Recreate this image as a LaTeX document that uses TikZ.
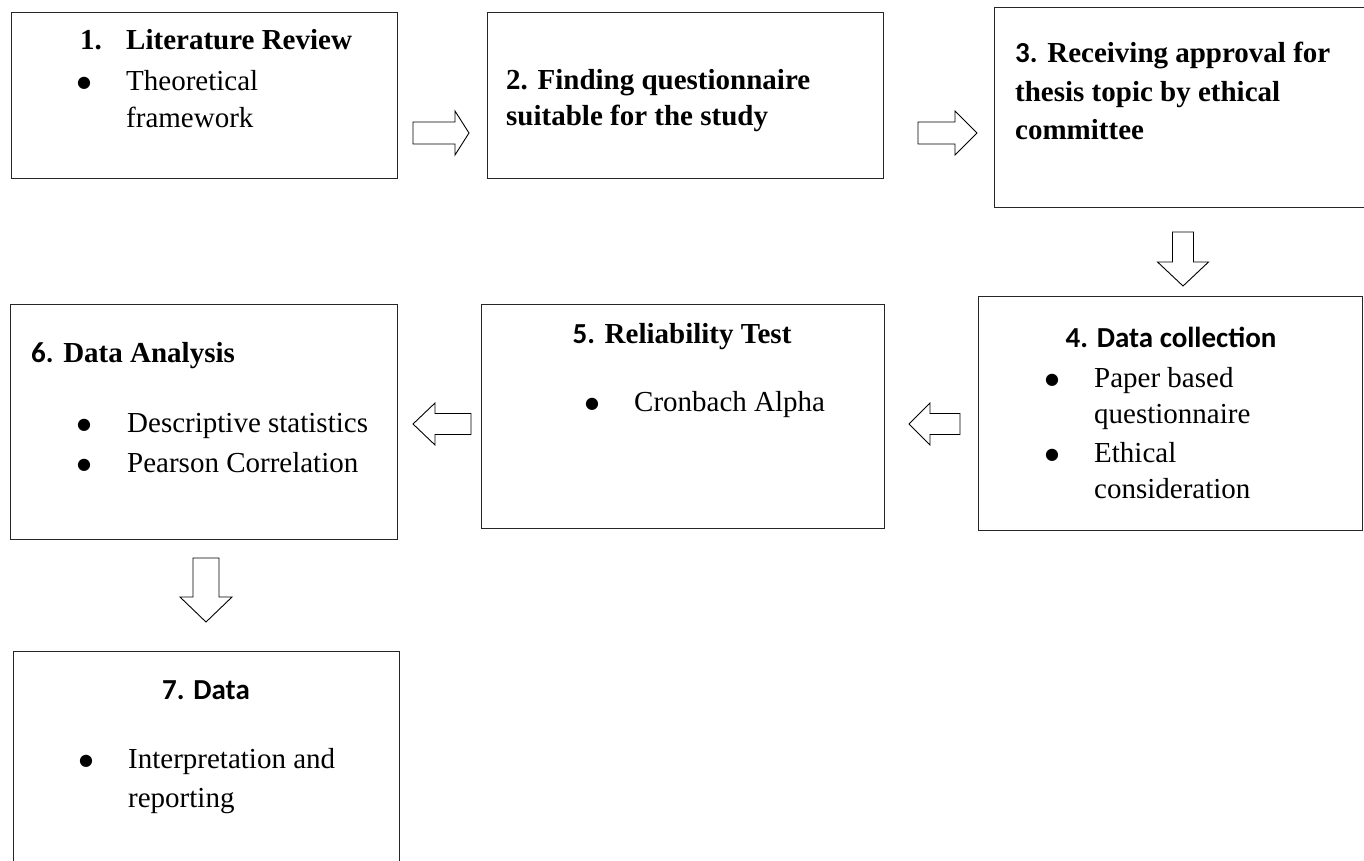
\documentclass[tikz,border=0pt]{standalone}
\usepackage{fontspec}
\setmainfont{Liberation Serif}
\newfontfamily\calibri{Carlito}
\newfontfamily\dejavu{DejaVu Sans}
\usepackage{tikz}
\usetikzlibrary{calc}
\newcommand{\blt}{\hspace{-3pt}\raisebox{3pt}{\fontsize{16pt}{16pt}\selectfont\dejavu ●}}
\tikzset{
	stepbox/.style={
		draw=black!85,
		line width=1.2pt,
		rectangle,
		anchor=north west,
		inner sep=0pt
	},
	item/.style={anchor=base west, inner sep=0pt, font=\fontsize{29pt}{36pt}\selectfont},
	head/.style={item, font=\fontsize{29pt}{36pt}\selectfont\bfseries},
	blockarrow/.style={draw=black, line width=0.9pt, fill=white, line join=miter},
}

\begin{document}
\begin{tikzpicture}[x=1pt,y=-1pt]
		\useasboundingbox (0,0) rectangle (1364,861);
		\clip (0,0) rectangle (1364,861);

		% the boxes
		\node[stepbox, minimum width=386pt, minimum height=166pt] (b1) at (11,12) {};
		\node[stepbox, minimum width=396pt, minimum height=166pt] (b2) at (487,12) {};
		\node[stepbox, minimum width=380pt, minimum height=200pt] (b3) at (994,7) {};
		\node[stepbox, minimum width=384pt, minimum height=234pt] (b4) at (978,296) {};
		\node[stepbox, minimum width=403pt, minimum height=224pt] (b5) at (481,304) {};
		\node[stepbox, minimum width=387pt, minimum height=235pt] (b6) at (10,304) {};
		\node[stepbox, minimum width=386pt, minimum height=230pt] (b7) at (13,651) {};

		% the texts
		\node[head] (t1) at (80,50) {\makebox[46pt][l]{1.}Literature Review};
		\node[item] (t1a) at (80,91) {\makebox[46pt][l]{\blt}Theoretical};
		\node[item] (t1b) at (126,128) {framework};

		\node[head] (t2a) at (506,90) {2. Finding questionnaire};
		\node[head] (t2b) at (506,126) {suitable for the study};

		\node[head] (t3a) at (1015,63) {{\calibri 3.} Receiving approval for};
		\node[head] (t3b) at (1015,102) {thesis topic by ethical};
		\node[head] (t3c) at (1015,140) {committee};

		\node[head, anchor=base] (t4) at (1171,347) {\calibri 4. Data collection};
		\node[item] (t4a) at (1048,387) {\makebox[46pt][l]{\blt}Paper based};
		\node[item] (t4b) at (1094,423) {questionnaire};
		\node[item] (t4c) at (1048,462) {\makebox[46pt][l]{\blt}Ethical};
		\node[item] (t4d) at (1094,498) {consideration};

		\node[head, anchor=base] (t5) at (682,343) {{\calibri 5.} Reliability Test};
		\node[item] (t5a) at (588,411) {\makebox[46pt][l]{\blt}Cronbach Alpha};

		\node[head] (t6) at (31,362) {{\calibri 6.} Data Analysis};
		\node[item] (t6a) at (80,432) {\makebox[47pt][l]{\blt}Descriptive statistics};
		\node[item] (t6b) at (80,472) {\makebox[47pt][l]{\blt}Pearson Correlation};

		\node[head, anchor=base] (t7) at (206,699) {\calibri 7. Data};
		\node[item] (t7a) at (82,768) {\makebox[46pt][l]{\blt}Interpretation and};
		\node[item] (t7b) at (128,807) {reporting};

		% the arrows
		\coordinate (a12) at (413,133);
		\coordinate (a23) at (918,133);
		\coordinate (a34) at (1183,232);
		\coordinate (a45) at (960,424);
		\coordinate (a56) at (471,424);
		\coordinate (a67) at (206,558);
		\draw[blockarrow] (a12) ++(0,-11) -- ++(42,0) -- ++(0,-11) -- ++(14,22) -- ++(-14,22) -- ++(0,-11) -- ++(-42,0) -- cycle;
		\draw[blockarrow] (a23) ++(0,-11) -- ++(37,0) -- ++(0,-11) -- ++(22,22) -- ++(-22,22) -- ++(0,-11) -- ++(-37,0) -- cycle;
		\draw[blockarrow] (a34) ++(-10.5,0) -- ++(0,30) -- ++(-15,0) -- ++(25.5,24) -- ++(25.5,-24) -- ++(-15,0) -- ++(0,-30) -- cycle;
		\draw[blockarrow] (a45) ++(0,-10.5) -- ++(-30,0) -- ++(0,-10.5) -- ++(-21,21) -- ++(21,21) -- ++(0,-10.5) -- ++(30,0) -- cycle;
		\draw[blockarrow] (a56) ++(0,-10.5) -- ++(-36,0) -- ++(0,-10.5) -- ++(-22,21) -- ++(22,21) -- ++(0,-10.5) -- ++(36,0) -- cycle;
		\draw[blockarrow] (a67) ++(-13,0) -- ++(0,39) -- ++(-13,0) -- ++(26,25) -- ++(26,-25) -- ++(-13,0) -- ++(0,-39) -- cycle;
	\end{tikzpicture}
\end{document}
